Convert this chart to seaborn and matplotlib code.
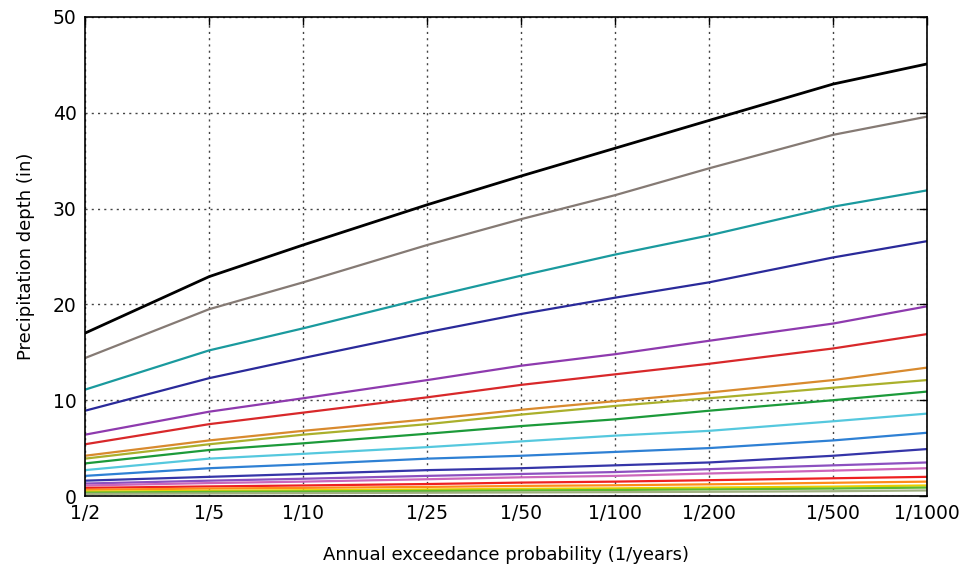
import matplotlib
matplotlib.use("Agg")
import matplotlib.pyplot as plt
import seaborn as sns
import pandas as pd
import numpy as np

return_periods = [2, 5, 10, 25, 50, 100, 200, 500, 1000]
tick_labels = ["1/2", "1/5", "1/10", "1/25", "1/50", "1/100", "1/200", "1/500", "1/1000"]

durations = ["60-day", "45-day", "30-day", "20-day", "10-day", "7-day", "4-day", "3-day",
             "2-day", "24-hr", "12-hr", "6-hr", "3-hr", "2-hr", "60-min", "30-min",
             "15-min", "10-min", "5-min"]

d60day = [17.0, 22.9, 26.2, 30.4, 33.4, 36.3, 39.2, 43.0, 45.1]
d45day = [14.4, 19.5, 22.3, 26.2, 28.9, 31.4, 34.2, 37.7, 39.6]
d30day = [11.1, 15.2, 17.5, 20.7, 23.0, 25.2, 27.2, 30.2, 31.9]
d20day = [8.9, 12.3, 14.4, 17.1, 19.0, 20.7, 22.3, 24.9, 26.6]
d10day = [6.4, 8.8, 10.2, 12.1, 13.6, 14.8, 16.2, 18.0, 19.8]
d7day = [5.4, 7.5, 8.7, 10.3, 11.6, 12.7, 13.8, 15.4, 16.9]
d4day = [4.2, 5.8, 6.8, 8.0, 9.0, 9.9, 10.8, 12.1, 13.4]
d3day = [3.9, 5.4, 6.4, 7.5, 8.5, 9.4, 10.2, 11.3, 12.1]
d2day = [3.4, 4.8, 5.5, 6.5, 7.3, 8.0, 8.9, 10.0, 10.9]
d24hr = [2.7, 3.9, 4.4, 5.1, 5.7, 6.3, 6.8, 7.8, 8.6]
d12hr = [2.1, 2.9, 3.3, 3.9, 4.2, 4.6, 5.0, 5.8, 6.6]
d6hr = [1.6, 2.0, 2.3, 2.7, 2.9, 3.2, 3.5, 4.2, 4.9]
d3hr = [1.3, 1.6, 1.8, 2.1, 2.3, 2.5, 2.8, 3.2, 3.5]
d2hr = [1.1, 1.35, 1.5, 1.75, 1.95, 2.1, 2.35, 2.65, 2.9]
d60min = [0.85, 1.0, 1.1, 1.25, 1.4, 1.5, 1.65, 1.85, 2.0]
d30min = [0.65, 0.78, 0.85, 0.95, 1.05, 1.12, 1.22, 1.38, 1.5]
d15min = [0.45, 0.55, 0.6, 0.68, 0.75, 0.8, 0.88, 0.98, 1.1]
d10min = [0.35, 0.43, 0.47, 0.53, 0.58, 0.63, 0.69, 0.78, 0.88]
d5min = [0.22, 0.27, 0.3, 0.34, 0.37, 0.4, 0.44, 0.5, 0.58]

series = [d60day, d45day, d30day, d20day, d10day, d7day, d4day, d3day, d2day, d24hr,
          d12hr, d6hr, d3hr, d2hr, d60min, d30min, d15min, d10min, d5min]

colors = ["#000000", "#857a74", "#1a9a9e", "#2a2a9a", "#8e3aae", "#d8282a", "#d88a2e",
          "#aab02c", "#1c9a3a", "#55c8de", "#2e80d4", "#3535a8", "#8c50c0", "#cc66bb",
          "#ee2020", "#ff8c1a", "#e8d000", "#5cb832", "#a0b080"]

rows = []
for name, vals in zip(durations, series):
    for t, v in zip(return_periods, vals):
        rows.append({"duration": name, "T": t, "depth": v})
df = pd.DataFrame(rows)

sns.set_style("white")
plt.rcParams["font.family"] = ["DejaVu Sans"]

fig = plt.figure(figsize=(9.64, 5.71), dpi=100)
ax = fig.add_axes([85 / 964, 75 / 571, 842 / 964, 479 / 571])

sns.lineplot(data=df, x="T", y="depth", hue="duration", hue_order=durations,
             palette=colors, linewidth=1.6, legend=False, ax=ax)
ax.lines[0].set_linewidth(2.0)

ax.set_xscale("log")
ax.set_xlim(2, 1000)
ax.set_ylim(0, 50)
ax.set_xticks(return_periods)
ax.set_xticklabels(tick_labels)
ax.xaxis.set_minor_locator(matplotlib.ticker.NullLocator())
ax.set_yticks([0, 10, 20, 30, 40, 50])

ax.grid(True, linestyle=(0, (1.5, 3)), color="#444444", linewidth=1.0)
ax.tick_params(direction="in", length=6, width=1, top=True, right=True,
               labelsize=13.5, colors="black", pad=6)
for s in ax.spines.values():
    s.set_color("black")
    s.set_linewidth(1.2)

ax.set_xlabel("Annual exceedance probability (1/years)", fontsize=13, labelpad=16,
              color="black")
ax.set_ylabel("Precipitation depth (in)", fontsize=13, labelpad=13, color="black")

fig.savefig("out.png", dpi=100)
